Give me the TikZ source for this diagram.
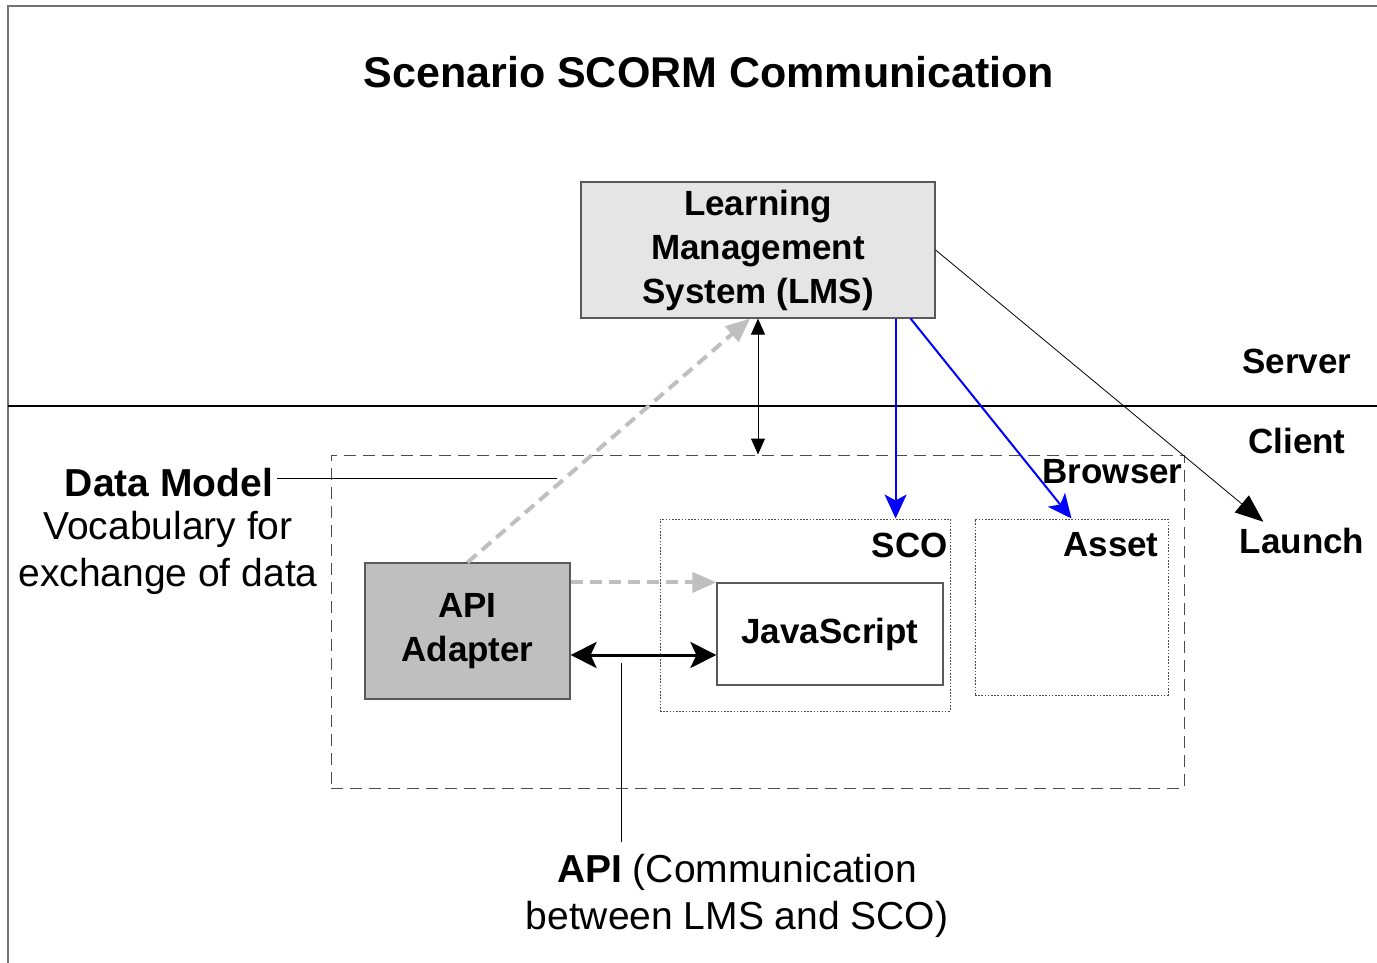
\documentclass[tikz,border=0pt]{standalone}
\usepackage{fontspec}
\setmainfont{Liberation Sans}
\usetikzlibrary{arrows.meta}

\tikzset{
  box/.style={draw=black!65, line width=0.6pt, inner sep=0pt, align=center,
    font=\fontsize{17.5}{22}\selectfont\bfseries},
  dotbox/.style={draw=black!70, line width=0.5pt, dash pattern=on 0.8pt off 0.8pt, inner sep=0pt},
  lbl/.style={inner sep=1pt, font=\fontsize{17.5}{22}\selectfont\bfseries},
  note/.style={inner sep=2pt, align=center, font=\fontsize{19.5}{23.5}\selectfont},
  grayflow/.style={draw=black!25, line width=2pt, dash pattern=on 6pt off 3.5pt,
    -{Triangle[length=12pt,width=10pt,fill=black!25]}},
  blueflow/.style={draw=blue, line width=1pt, -{Stealth[length=12pt,width=11pt,inset=3pt]}}
}

\begin{document}
\begin{tikzpicture}[x=0.5pt,y=0.5pt,yscale=-1]
    \useasboundingbox (0,0) rectangle (1377,963);

    %Frame
    \draw [black!55, line width=0.8pt] (8,963) -- (8,6) -- (1377,6) ;
    %Straight Lines (server / client border)
    \draw [line width=1pt] (8,406) -- (1377,406) ;

    % Text Node
    \node (title) at (709,72) [font=\fontsize{21.5}{26}\selectfont\bfseries] {Scenario SCORM Communication};

    %Shape: Rectangle [LMS]
    \node (lms) at (758,250) [box, fill=black!10, minimum width=177pt, minimum height=68pt]
      {Learning\\Management\\System (LMS)};
    %Shape: Rectangle [Browser]
    \node (browser) at (757.5,621.5) [draw=black!70, line width=0.5pt, dash pattern=on 6pt off 3.5pt,
      minimum width=426.5pt, minimum height=166.5pt, inner sep=0pt] {};
    %Shape: Rectangle [API Adapter]
    \node (api) at (467.5,631) [box, fill=black!25, minimum width=102.5pt, minimum height=68pt]
      {API\\Adapter};
    %Shape: Rectangle [SCO]
    \node (sco) at (805,615) [dotbox, minimum width=145pt, minimum height=96pt] {};
    %Shape: Rectangle [JavaScript]
    \node (js) at (830,634) [box, fill=white, minimum width=113pt, minimum height=51pt] {JavaScript};
    %Shape: Rectangle [Asset]
    \node (asset) at (1071.5,607) [dotbox, minimum width=96.5pt, minimum height=88pt] {};

    % Text Node
    \node (browserlbl) at (1183,472) [lbl, anchor=east, inner sep=0pt] {Browser};
    \node (scolbl) at (948,545) [lbl, anchor=east, inner sep=0pt] {SCO};
    \node (assetlbl) at (1111,545) [lbl] {Asset};
    \node (server) at (1297,361) [lbl] {Server};
    \node (client) at (1297,441) [lbl] {Client};
    \node (launch) at (1302,541) [lbl] {Launch};

    % Text Node
    \node (dmhead) at (169,483) [note, font=\fontsize{19.5}{23.5}\selectfont\bfseries] {Data Model};
    \node (dmtext) at (168,553) [note] {Vocabulary for\\exchange of data};
    \node (apinote) at (737,896) [note] {\textbf{API} (Communication\\between LMS and SCO)};

    \coordinate (dmend) at (557,478);
    \coordinate (apiend) at (621,663);

    %Straight Lines
    \draw [grayflow] (api.north) -- ([xshift=-4pt]lms.south) ;
    \draw [grayflow] (api.east |- js.north west) -- (js.north west) ;
    \draw [line width=0.5pt, {Triangle[length=8pt,width=7pt]}-{Triangle[length=8pt,width=7pt]}]
      (lms.south) -- (lms.south |- browser.north) ;
    \draw [line width=1.5pt, {Stealth[length=13pt,width=13pt,inset=3pt]}-{Stealth[length=13pt,width=13pt,inset=3pt]}]
      ([yshift=12pt]api.east) -- ([yshift=12pt]api.east -| js.west) ;
    \draw [blueflow] ([xshift=-20pt]lms.south east) -- ([xshift=-20pt]lms.south east |- sco.north) ;
    \draw [blueflow] ([xshift=-12.5pt]lms.south east) -- (asset.north) ;
    \draw [line width=0.4pt, -{Triangle[length=14pt,width=11pt]}] (lms.east) -- ([xshift=13pt,yshift=-2pt]launch.north west) ;

    %Straight Lines (annotations)
    \draw [line width=0.5pt] (dmhead.east |- dmend) -- (dmend) ;
    \draw [line width=0.5pt] (apiend) -- ([yshift=-4pt]apiend |- apinote.north) ;

\end{tikzpicture}
\end{document}
